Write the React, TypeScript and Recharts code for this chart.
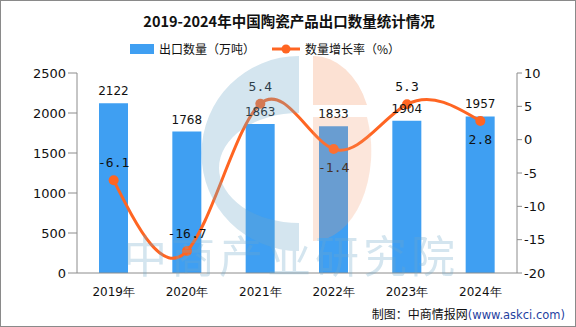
import React from "react";
import {
  ComposedChart,
  Bar,
  Line,
  XAxis,
  YAxis,
  LabelList,
} from "recharts";

const years = ["2019年", "2020年", "2021年", "2022年", "2023年", "2024年"];
const exportVolume = [2122, 1768, 1863, 1833, 1904, 1957];
const growthRate = [-6.1, -16.7, 5.4, -1.4, 5.3, 2.8];
const leftTicks = [0, 500, 1000, 1500, 2000, 2500];
const rightTicks = [-20, -15, -10, -5, 0, 5, 10];

const data = years.map((year, i) => ({
  year,
  volume: exportVolume[i],
  rate: growthRate[i],
}));

const BAR_COLOR = "#3f9ff2";
const LINE_COLOR = "#ff6522";
const AXIS_COLOR = "#8c8c8c";
const FONT = "'DejaVu Sans', sans-serif";

if (typeof document !== "undefined") document.body.style.margin = "0";

// labels for these points sit below the dot
const labelBelow = [false, false, false, true, false, true];

function RateLabel(props: any) {
  const { x, y, value, index } = props;
  const dy = labelBelow[index] ? 23 : -13;
  return (
    <text x={x} y={y + dy} textAnchor="middle" fontSize={13} fill="#111" fontFamily="'DejaVu Sans Mono', monospace">
      {value}
    </text>
  );
}

function LegendRow() {
  return (
    <div
      style={{
        position: "absolute",
        top: 39,
        left: 0,
        display: "flex",
        alignItems: "center",
        fontSize: 12,
        fontFamily: "'Noto Sans CJK SC', sans-serif",
        color: "#111",
      }}
    >
      <span style={{ display: "inline-block", width: 24, height: 10, background: BAR_COLOR, marginLeft: 129, marginRight: 5 }} />
      <span>出口数量（万吨）</span>
      <svg width={30} height={12} style={{ marginLeft: 16, marginRight: 4 }}>
        <line x1={1} y1={6} x2={29} y2={6} stroke={LINE_COLOR} strokeWidth={3} />
        <circle cx={15} cy={6} r={4.5} fill={LINE_COLOR} />
      </svg>
      <span>数量增长率（%）</span>
    </div>
  );
}

function Watermark() {
  return (
    <svg width={576} height={327} style={{ position: "absolute", left: 0, top: 0, pointerEvents: "none" }}>
      <g opacity={0.3}>
        <path
          d="M298 55 A96 96 0 0 0 298 250 L298 222 A80 55 0 0 1 298 112 L298 55 Z"
          fill="#6fa8c8"
        />
        <path d="M312 55 A58 80 0 0 1 366 104 L312 104 Z" fill="#f39a6c" />
        <path d="M312 116 L366 116 A58 90 0 0 1 312 240 Z" fill="#f39a6c" opacity={0.8} />
        <text x={290} y={272} textAnchor="middle" fontSize={44} fontFamily="'Noto Sans CJK SC', sans-serif" fill="#6fa8c8" letterSpacing={4}>
          中商产业研究院
        </text>
      </g>
    </svg>
  );
}

export default function App() {
  return (
    <div
      style={{
        position: "relative",
        width: 576,
        height: 327,
        boxSizing: "border-box",
        border: "1px solid #8a8a8a",
        background: "#fff",
        overflow: "hidden",
      }}
    >
      <div
        style={{
          position: "absolute",
          top: 9,
          left: 0,
          width: 576,
          textAlign: "center",
          fontSize: 14.5,
          fontWeight: "bold",
          fontFamily: "'Noto Sans CJK SC', sans-serif",
          color: "#111",
        }}
      >
        2019-2024年中国陶瓷产品出口数量统计情况
      </div>
      <LegendRow />
      <div style={{ position: "absolute", left: -1, top: -1 }}>
        <ComposedChart
          width={576}
          height={327}
          data={data}
          margin={{ top: 73, right: 0, bottom: 24, left: 0 }}
        >
          <XAxis
            dataKey="year"
            height={30}
            tickLine={false}
            axisLine={{ stroke: AXIS_COLOR }}
            tick={{ fontSize: 12, fill: "#111", fontFamily: FONT }}
            tickMargin={8}
            interval={0}
          />
          <YAxis
            yAxisId="left"
            width={77}
            domain={[0, 2500]}
            ticks={leftTicks}
            tickSize={9}
            axisLine={{ stroke: AXIS_COLOR }}
            tickLine={{ stroke: AXIS_COLOR }}
            tick={{ fontSize: 13, fill: "#111", fontFamily: FONT }}
          />
          <YAxis
            yAxisId="right"
            orientation="right"
            width={59}
            domain={[-20, 10]}
            ticks={rightTicks}
            tickSize={5}
            axisLine={{ stroke: AXIS_COLOR }}
            tickLine={{ stroke: AXIS_COLOR }}
            tick={{ fontSize: 13, fill: "#111", fontFamily: FONT }}
          />
          <Bar yAxisId="left" dataKey="volume" fill={BAR_COLOR} barSize={29} isAnimationActive={false}>
            <LabelList dataKey="volume" position="top" offset={8} fontSize={12} fill="#111" fontFamily={FONT} />
          </Bar>
          <Line
            yAxisId="right"
            type="natural"
            dataKey="rate"
            stroke={LINE_COLOR}
            strokeWidth={3}
            dot={{ r: 5, fill: LINE_COLOR, stroke: LINE_COLOR, strokeWidth: 0 }}
            isAnimationActive={false}
          >
            <LabelList dataKey="rate" content={RateLabel} />
          </Line>
        </ComposedChart>
      </div>
      <Watermark />
      <div
        style={{
          position: "absolute",
          right: 10,
          top: 304,
          fontSize: 12,
          fontFamily: "'Noto Sans CJK SC', sans-serif",
          color: "#111",
        }}
      >
        制图：中商情报网<span style={{ color: "#1f3f9f", fontFamily: FONT, fontSize: 11.5 }}>(www.askci.com)</span>
      </div>
    </div>
  );
}
